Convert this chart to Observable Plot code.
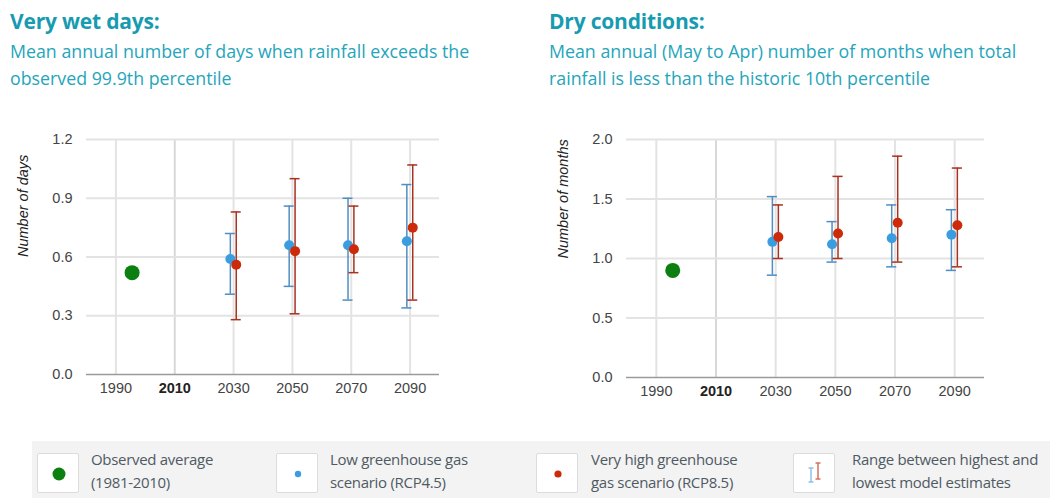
<!DOCTYPE html>
<html><head><meta charset="utf-8">
<script src="https://cdn.jsdelivr.net/npm/d3@7"></script>
<script src="https://cdn.jsdelivr.net/npm/@observablehq/plot@0.6"></script>
<style>
body{margin:0;width:1050px;height:498px;background:#fff;position:relative;overflow:hidden;font-family:"Open Sans",sans-serif}
.title{position:absolute;top:7px;color:#179bb1;font-weight:bold;font-size:21px;line-height:28px;white-space:nowrap;letter-spacing:-0.2px}
.sub{position:absolute;top:38px;color:#25a5bb;font-size:17.8px;line-height:27px;white-space:nowrap}
.chart{position:absolute;top:110px}
.legend{position:absolute;left:32px;top:441px;width:1018px;height:57px;background:#f3f3f3}
.box{position:absolute;top:12px;width:40px;height:38px;background:#fff;border:1px solid #dcdcdc;border-radius:2px}
.box svg{display:block}
.ltext{position:absolute;top:7px;font-family:"Open Sans",sans-serif;font-size:15px;line-height:23px;color:#4f5a63;white-space:nowrap;letter-spacing:-0.3px}
</style></head>
<body>
<div class="title" style="left:10px">Very wet days:</div>
<div class="sub" style="left:10px">Mean annual number of days when rainfall exceeds the<br>observed 99.9th percentile</div>
<div class="title" style="left:549px">Dry conditions:</div>
<div class="sub" style="left:549px">Mean annual (May to Apr) number of months when total<br>rainfall is less than the historic 10th percentile</div>
<div class="chart" id="wet" style="left:0px"></div>
<div class="chart" id="dry" style="left:530px"></div>
<div class="legend" id="legend"></div>
<script>
// ---- data ----
const years = [2030, 2050, 2070, 2090];
const xTicks = [1990, 2010, 2030, 2050, 2070, 2090];
const obsYear = 1995.5;

const wetObs = 0.52;
const wetLowMean = [0.59, 0.66, 0.66, 0.68];
const wetLowMin  = [0.41, 0.45, 0.38, 0.34];
const wetLowMax  = [0.72, 0.86, 0.90, 0.97];
const wetHighMean = [0.56, 0.63, 0.64, 0.75];
const wetHighMin  = [0.28, 0.31, 0.52, 0.38];
const wetHighMax  = [0.83, 1.00, 0.86, 1.07];
const wetTicks = [0, 0.3, 0.6, 0.9, 1.2];

const dryObs = 0.90;
const dryLowMean = [1.14, 1.12, 1.17, 1.20];
const dryLowMin  = [0.86, 0.97, 0.93, 0.90];
const dryLowMax  = [1.52, 1.31, 1.45, 1.41];
const dryHighMean = [1.18, 1.21, 1.30, 1.28];
const dryHighMin  = [1.00, 1.00, 0.97, 0.93];
const dryHighMax  = [1.45, 1.69, 1.86, 1.76];
const dryTicks = [0, 0.5, 1.0, 1.5, 2.0];

const legendLabels = [
  ["Observed average", "(1981-2010)"],
  ["Low greenhouse gas", "scenario (RCP4.5)"],
  ["Very high greenhouse", "gas scenario (RCP8.5)"],
  ["Range between highest and", "lowest model estimates"]
];

// ---- style ----
const GREEN = "#0b7f0f", BLUE = "#3a9de0", RED = "#cc2a08", BLUEBAR = "#4f8dc2", REDBAR = "#a8311f";

function build(o) {
  const low = years.map((y, i) => ({x: y - 1.1, mean: o.lowMean[i], min: o.lowMin[i], max: o.lowMax[i]}));
  const high = years.map((y, i) => ({x: y + 0.9, mean: o.highMean[i], min: o.highMin[i], max: o.highMax[i]}));
  const cap = 1.7;
  const bars = (data, color) => [
    Plot.ruleX(data, {x: "x", y1: "min", y2: "max", stroke: color, strokeWidth: 1.5}),
    Plot.ruleY(data, {y: "min", x1: d => d.x - cap, x2: d => d.x + cap, stroke: color, strokeWidth: 1.5}),
    Plot.ruleY(data, {y: "max", x1: d => d.x - cap, x2: d => d.x + cap, stroke: color, strokeWidth: 1.5})
  ];
  return Plot.plot({
    width: 460, height: 300,
    marginLeft: o.ml, marginRight: o.mr, marginTop: 29, marginBottom: o.mb,
    style: {fontFamily: "Arial, 'Liberation Sans', sans-serif", fontSize: "14.5px", color: "#444", background: "transparent"},
    x: {domain: [1980, 2100]},
    y: {domain: [o.yTicks[0], o.yTicks[o.yTicks.length - 1]]},
    marks: [
      Plot.gridX({ticks: xTicks.filter(t => t !== 2010), stroke: "#e3e3e3", strokeOpacity: 1, strokeWidth: 2}),
      Plot.gridX({ticks: [2010], stroke: "#d8d8d8", strokeOpacity: 1, strokeWidth: 2}),
      Plot.gridY({ticks: o.yTicks.filter(t => t > 0), stroke: "#e3e3e3", strokeOpacity: 1, strokeWidth: 2}),
      Plot.ruleY([0], {stroke: "#9a9a9a", strokeWidth: 1.5}),
      Plot.axisY({ticks: o.yTicks, tickSize: 0, tickPadding: 14, tickFormat: d => d.toFixed(1), label: null, fill: "#444", fontSize: 14.5}),
      Plot.axisX({ticks: xTicks.filter(t => t !== 2010), tickSize: 0, tickPadding: 8, tickFormat: d => String(d), label: null, fill: "#444", fontSize: 14.5}),
      Plot.axisX({ticks: [2010], tickSize: 0, tickPadding: 8, tickFormat: d => String(d), label: null, fill: "#222", fontWeight: "bold", fontSize: 14.5}),
      Plot.text([o.label], {text: d => d, frameAnchor: "left", rotate: -90, dx: -o.lx, fontStyle: "italic", fontSize: 14.5, fill: "#222"}),
      ...bars(low, BLUEBAR),
      ...bars(high, REDBAR),
      Plot.dot([{x: obsYear, y: o.obs}], {x: "x", y: "y", r: 7.5, fill: GREEN}),
      Plot.dot(low, {x: "x", y: "mean", r: 5, fill: BLUE}),
      Plot.dot(high, {x: "x", y: "mean", r: 5, fill: RED})
    ]
  });
}

document.getElementById("wet").append(build({
  obs: wetObs, lowMean: wetLowMean, lowMin: wetLowMin, lowMax: wetLowMax,
  highMean: wetHighMean, highMin: wetHighMin, highMax: wetHighMax,
  yTicks: wetTicks, label: "Number of days", ml: 86, mr: 21, mb: 36, lx: 63
}));
document.getElementById("dry").append(build({
  obs: dryObs, lowMean: dryLowMean, lowMin: dryLowMin, lowMax: dryLowMax,
  highMean: dryHighMean, highMin: dryHighMin, highMax: dryHighMax,
  yTicks: dryTicks, label: "Number of months", ml: 96, mr: 6, mb: 33, lx: 63
}));

// ---- legend ----
const icons = [
  `<svg width="40" height="38"><circle cx="21" cy="20" r="6.5" fill="${GREEN}"/></svg>`,
  `<svg width="40" height="38"><circle cx="21" cy="20" r="3.2" fill="${BLUE}"/></svg>`,
  `<svg width="40" height="38"><circle cx="21" cy="20" r="3.6" fill="${RED}"/></svg>`,
  `<svg width="40" height="38"><g stroke="#8cc3e8" stroke-width="1.5" fill="none"><path d="M17 14V28M14.5 14H19.5M14.5 28H19.5"/></g><g stroke="#d8705e" stroke-width="1.5" fill="none"><path d="M24 9V25M21.5 9H26.5M21.5 25H26.5"/></g></svg>`
];
const boxX = [5, 244, 504, 761];
const textX = [59, 298, 559, 820];
const leg = document.getElementById("legend");
legendLabels.forEach((lab, i) => {
  const b = document.createElement("div");
  b.className = "box"; b.style.left = boxX[i] + "px"; b.innerHTML = icons[i];
  leg.append(b);
  const t = document.createElement("div");
  t.className = "ltext"; t.style.left = textX[i] + "px"; t.innerHTML = lab[0] + "<br>" + lab[1];
  leg.append(t);
});
</script>
</body></html>
